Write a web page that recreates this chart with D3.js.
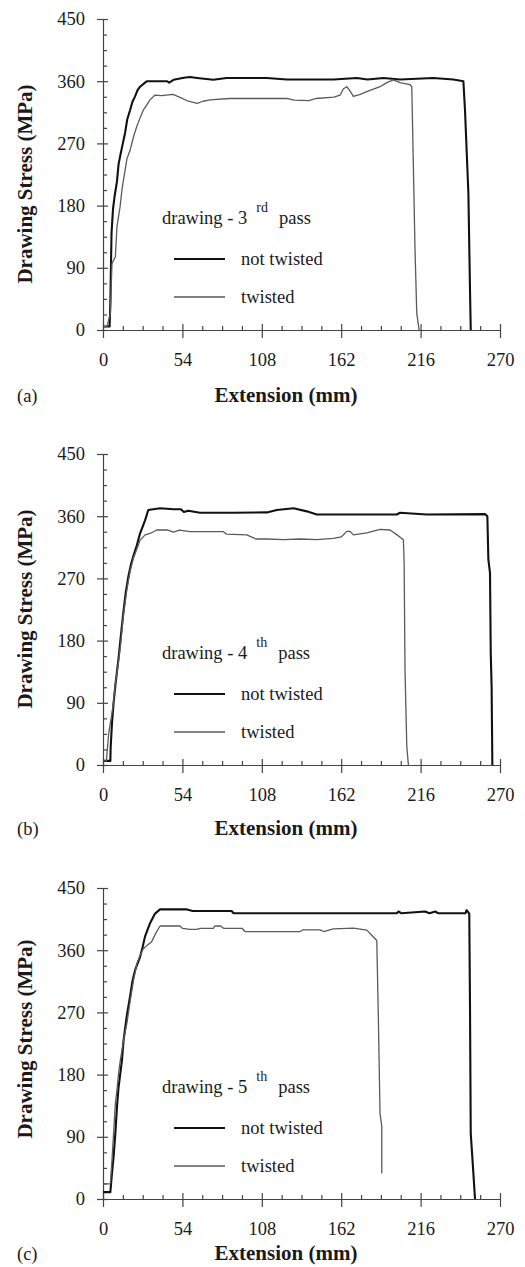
<!doctype html><html><head><meta charset="utf-8"></head><body style="margin:0;background:#fff">
<script src="https://d3js.org/d3.v7.min.js"></script>

<style>
  .axis path, .axis line {
    stroke: #444;
    stroke-width: 1.2;
  }
</style>

<script>
  // axis ticks
  var xTicks = [0, 54, 108, 162, 216, 270];
  var yTicks = [0, 90, 180, 270, 360, 450];

  var panelTags = ["(a)", "(b)", "(c)"];
  var passNumbers = ["3", "4", "5"];
  var passSuffix = ["rd", "th", "th"];
  var seriesNames = ["not twisted", "twisted"];

  // [extension mm, stress MPa]
  var notTwisted3 = [[0,5],[4.5,5],[5.0,40],[5.8,140],[6.8,175],[8.0,195],[9.5,215],[10.6,240],[12,255],[13.5,270],[15,285],[16.5,305],[18.4,318],[20,330],[21.8,338],[23.5,347],[25.2,352],[28.6,358],[30,360],[43.5,360],[45,358],[48,362],[55,365],[59,366],[64,364.6],[75,362],[84,364.6],[111.4,364.6],[125,362.5],[156.7,362.5],[172.6,364.6],[180,362.5],[190.7,364.6],[202,362.5],[224.7,364.6],[238.3,362.5],[245.1,360],[246.2,318],[248.5,198],[249.6,58],[250.1,0]];
  var twisted3 = [[0,5],[2.7,5],[5.0,24],[6.1,96],[8.4,106],[9.5,150],[11.6,178],[13,205],[15,231],[16.3,248],[18.4,260],[20.8,280],[22.9,294],[25.4,308],[27.4,318],[29.9,326],[32,333],[35.4,340],[40,339],[47.6,341],[52,337],[58,331],[64,328],[68,331],[72.8,333],[86,335],[113,335],[125,335],[130,332.5],[140,332],[145,335],[157,337],[161.3,340],[163.5,349],[165.8,352],[168,346],[170.3,338],[175,341],[179.4,345],[188.4,352],[193,358],[197.5,362],[202,358],[208.8,355],[210,352],[211.1,236],[212.2,116],[213.4,24],[215,0]];

  var notTwisted4 = [[0,6],[5,6],[5.2,25],[6.1,60],[7.2,90],[8.4,115],[9.5,135],[10.6,155],[11.8,180],[13.8,220],[15.5,250],[17.2,272],[19,290],[20.6,302],[23,318],[25.2,335],[27,345],[28.6,354],[30.8,369],[38.8,371.5],[48,370],[53,370],[55,366],[58,368],[66,365],[88.8,365],[111.4,365.5],[118.2,369],[129.6,371.5],[138.6,367],[145.4,362.5],[199.8,362.5],[202,365],[220.2,362.5],[259.8,363],[261.4,360],[262.1,297],[263.2,278],[263.7,162],[264.3,113],[264.8,0]];
  var twisted4 = [[0,6],[2.3,6],[3.9,46],[6.1,75],[7.2,92],[8.4,118],[9.5,133],[11.8,171],[13.8,215],[16.3,255],[18.6,282],[20.8,300],[23.1,313],[25.2,325],[28.6,333],[33,336],[36.5,340],[44,340],[48,337],[52,340],[59,337.6],[82,337.6],[84,334],[97.7,333],[104,327],[111.4,327],[122.8,326],[134.1,327],[145.4,326],[156.7,328],[162,330],[165.8,338],[168,338],[170.3,333],[179.4,336],[188.4,341],[195.2,340],[200,333],[204.3,326],[204.8,292],[205.4,138],[206.6,27],[207.7,0]];

  var notTwisted5 = [[0,10],[5,10],[6.1,37],[7.2,61],[8.4,95],[9.5,133],[10.6,162],[11.8,182],[12.9,201],[14.0,230],[16.1,264],[18.4,293],[20,315],[21.8,331],[25.2,350],[27,365],[28.6,380],[32,399],[35.4,413],[38.8,419],[57.1,419],[61,416.7],[87.5,416.7],[88.8,413.4],[199.8,413.4],[201,416],[203,413.4],[219,416],[222,413.4],[226,416],[228,413.4],[246.5,413.4],[247.3,418],[249.1,413],[249.6,278],[250.1,95],[251.9,37],[253.0,0]];
  var twisted5 = [[0,22],[5,22],[6.1,56],[7.2,95],[8.4,138],[9.5,158],[10.6,182],[11.8,201],[14.0,230],[16.3,255],[18.6,288],[20.8,317],[23.1,341],[25.4,353],[27.4,362],[30,367],[33,372],[36.5,387],[38.8,395],[52.4,395],[54,391.7],[59,390],[64,390],[66,391.7],[75,391.7],[76,395],[80,395],[82,391.7],[94.5,391.7],[96.6,387],[134.1,387],[136,389.5],[147.7,389.5],[150,387],[156.7,391],[170.3,392],[179.4,389],[183.9,379],[186.2,374],[187.3,259],[188.4,124],[189.6,105],[189.6,37]];

  var panelSeries = [[notTwisted3, twisted3], [notTwisted4, twisted4], [notTwisted5, twisted5]];

  var serif = "'Liberation Serif', 'Times New Roman', Times, serif";
  var width = 525, height = 1267;
  var left = 103, plotW = 397, plotH = 311;
  var tops = [19, 454, 888];
  var xLabelDrop = [72, 70, 61];
  var yLabelMid = [184, 609, 1039];

  var x = d3.scaleLinear().domain([0, 270]).range([0, plotW]);
  var y = d3.scaleLinear().domain([0, 450]).range([plotH, 0]);

  var xMinor = d3.range(0, 270.1, 13.5).filter(function(d) { return xTicks.indexOf(d) < 0; });
  var yMinor = d3.range(0, 450.1, 22.5).filter(function(d) { return yTicks.indexOf(d) < 0; });

  var lineStyle = [{ color: "#111", w: 2.1 }, { color: "#5a5a5a", w: 1.3 }];

  var svg = d3.select("body").append("svg")
    .attr("width", width)
    .attr("height", height)
    .style("font-family", serif);

  var line = d3.line()
    .x(function(d) { return x(d[0]); })
    .y(function(d) { return y(d[1]); });

  function serifText(sel, size) {
    sel.attr("font-family", serif).style("font-family", serif)
      .attr("font-size", size).attr("fill", "#1a1a1a");
    return sel;
  }

  tops.forEach(function(top, p) {
    var g = svg.append("g").attr("transform", "translate(" + left + "," + top + ")");

    // y axis: labels + outer tick, then inner ticks
    var ya = g.append("g").attr("class", "axis")
      .call(d3.axisLeft(y).tickValues(yTicks).tickSize(6).tickPadding(12).tickSizeOuter(0));
    serifText(ya.selectAll("text"), 18.5);
    g.append("g").attr("class", "axis")
      .call(d3.axisRight(y).tickValues(yTicks).tickSize(5).tickFormat(""))
      .select(".domain").remove();
    g.append("g").attr("class", "axis")
      .call(d3.axisRight(y).tickValues(yMinor).tickSize(4).tickFormat(""))
      .select(".domain").remove();

    // x axis
    var xg = g.append("g").attr("transform", "translate(0," + plotH + ")");
    var xa = xg.append("g").attr("class", "axis")
      .call(d3.axisBottom(x).tickValues(xTicks).tickSize(8).tickPadding(15).tickSizeOuter(0));
    serifText(xa.selectAll("text"), 18.5);
    xg.append("g").attr("class", "axis")
      .call(d3.axisTop(x).tickValues(xTicks).tickSize(6).tickFormat(""))
      .select(".domain").remove();
    xg.append("g").attr("class", "axis")
      .call(d3.axisTop(x).tickValues(xMinor).tickSize(4).tickFormat(""))
      .select(".domain").remove();

    // curves
    panelSeries[p].forEach(function(s, i) {
      g.append("path")
        .datum(s)
        .attr("fill", "none")
        .attr("stroke", lineStyle[i].color)
        .attr("stroke-width", lineStyle[i].w)
        .attr("stroke-linejoin", "round")
        .attr("d", line);
    });

    // legend
    var lt = serifText(g.append("text"), 18.5)
      .attr("x", 162 - left).attr("y", 205);
    lt.append("tspan").text("drawing - " + passNumbers[p]);
    lt.append("tspan").attr("dx", 9).attr("dy", -12).attr("font-size", 14).text(passSuffix[p]);
    lt.append("tspan").attr("dx", 11).attr("dy", 12).text("pass");

    seriesNames.forEach(function(name, i) {
      var ly = 240 + i * 38;
      g.append("line")
        .attr("x1", 174 - left).attr("x2", 225 - left)
        .attr("y1", ly).attr("y2", ly)
        .attr("stroke", lineStyle[i].color)
        .attr("stroke-width", lineStyle[i].w);
      serifText(g.append("text"), 18.5)
        .attr("x", 241 - left).attr("y", ly + 6)
        .text(name);
    });

    // axis titles and panel tag
    serifText(g.append("text"), 21)
      .attr("font-weight", "bold")
      .attr("text-anchor", "middle")
      .attr("x", 286 - left).attr("y", plotH + xLabelDrop[p])
      .text("Extension (mm)");
    serifText(g.append("text"), 18.5)
      .attr("x", 17 - left).attr("y", plotH + xLabelDrop[p])
      .text(panelTags[p]);
    serifText(svg.append("text"), 21)
      .attr("font-weight", "bold")
      .attr("text-anchor", "middle")
      .attr("transform", "translate(32," + yLabelMid[p] + ") rotate(-90)")
      .text("Drawing Stress (MPa)");
  });
</script></body></html>
